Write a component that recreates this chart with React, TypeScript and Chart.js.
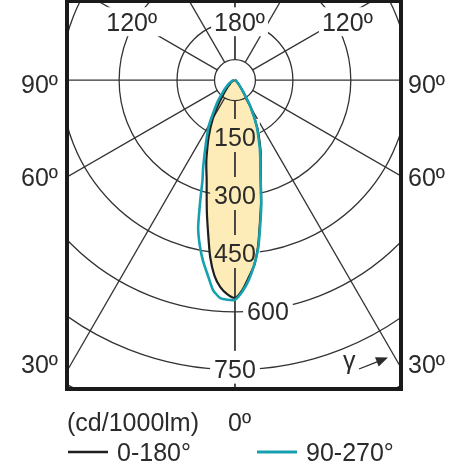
import React, { useEffect, useRef } from 'react';
import { Chart, registerables } from 'chart.js';

Chart.register(...registerables);

// ---------------- data ----------------
// gamma angles (deg, 0 = straight down) and intensities in cd/1000lm
const GAMMA = [0, 2, 4, 6, 8, 10, 12, 14, 16, 18, 20, 25, 30, 35, 40, 45, 50, 60, 70, 80, 90];
const C0 = [564, 544, 512, 481, 432, 373, 325, 277, 241, 215, 194, 137, 82, 36, 18, 10, 6, 3, 2, 1, 0];
const C180 = [564, 555, 538, 509, 462, 401, 350, 303, 266, 240, 216, 161, 114, 72, 45, 30, 20, 12, 5, 3, 1];
const C90 = [568, 548, 518, 480, 436, 378, 328, 276, 238, 212, 188, 134, 82, 38, 20, 11, 6, 3, 2, 1, 0];
const C270 = [569, 569, 565, 546, 509, 476, 438, 394, 327, 272, 241, 177, 134, 92, 66, 44, 32, 18, 10, 5, 2];

const SERIES = ['0-180°', '90-270°'];
const RING_VALUES = [150, 300, 450, 600, 750, 900];
const RING_LABELS = ['150', '300', '450', '600', '750'];
const INNER_RING = 53;
const RADIAL_ANGLES = [0, 30, 60, 90, 120, 150, 180];
const SIDE_ANGLES = [90, 60, 30];
const SIDE_LABELS = ['90º', '60º', '30º'];
const TOP_ANGLES = [-120, 180, 120];
const TOP_LABELS = ['120º', '180º', '120º'];
const TOP_LABEL_RADIUS = [300, 150, 300];
const BOTTOM_LABEL = '0º';
const UNIT = '(cd/1000lm)';
const GAMMA_SYMBOL = 'γ';

// ---------------- styles ----------------
const FONT = '"Liberation Sans", Arial, Helvetica, sans-serif';
const FS = 25;
const TEXT = '#2b2b2b';
const GRID = '#333333';
const BLACK = '#1e1e1e';
const CYAN = '#17a0b0';
const FILL = '#fdebb8';
const RING_LABEL_SHIFT = [0, 0, 0, 33, 0];
const SIDE_LABEL_DY = [4, 1, -4];

const rad = (d: number) => (d * Math.PI) / 180;

function halfPlane(vals: number[], side: number) {
  return GAMMA.map((g, i) => ({ x: side * vals[i] * Math.sin(rad(g)), y: -vals[i] * Math.cos(rad(g)) }));
}
function closedCurve(left: number[], right: number[]) {
  const l = halfPlane(left, -1).reverse();
  const r = halfPlane(right, 1).slice(1);
  return [...l, ...r];
}

function geom(chart: any) {
  const { x, y } = chart.scales;
  const cx = x.getPixelForValue(0);
  const cy = y.getPixelForValue(0);
  const k = (x.getPixelForValue(1000) - cx) / 1000;
  return { cx, cy, k };
}

function textBoxes(chart: any) {
  const ctx = chart.ctx;
  const { cx, cy, k } = geom(chart);
  ctx.font = `${FS}px ${FONT}`;
  const out: any[] = [];
  RING_LABELS.forEach((t, i) => {
    const w = ctx.measureText(t).width;
    const tcx = cx + RING_LABEL_SHIFT[i];
    const tcy = cy + RING_VALUES[i] * k - 1;
    out.push({ text: t, tx: tcx - w / 2, tcy, box: { x: tcx - w / 2 - 4, y: tcy - 18, w: w + 8, h: 33 } });
  });
  TOP_ANGLES.forEach((a, i) => {
    const R = TOP_LABEL_RADIUS[i] * k;
    const side = a < 0 ? -1 : a === 180 ? 0 : 1;
    const aa = rad(Math.abs(a));
    const px = cx + side * R * Math.sin(aa);
    const py = cy - R * Math.cos(rad(180) - aa);
    const t = TOP_LABELS[i];
    const dw = ctx.measureText(t.replace('º', '')).width;
    const w = ctx.measureText(t).width;
    const left = px + side * 7.5 - dw / 2;
    out.push({ text: t, tx: left, tcy: py, box: { x: left - 3, y: py - 15, w: w + 6, h: 29 } });
  });
  return out;
}

const polarPlugin = {
  id: 'polarGrid',
  beforeDatasetsDraw(chart: any) {
    const ctx = chart.ctx;
    const a = chart.chartArea;
    const { cx, cy, k } = geom(chart);
    // yellow fill inside the 0-180 curve
    ctx.save();
    ctx.beginPath();
    ctx.rect(a.left, a.top, a.right - a.left, a.bottom - a.top);
    ctx.clip();
    const meta = chart.getDatasetMeta(1);
    const line: any = meta.dataset;
    ctx.beginPath();
    if (line && typeof line.path === 'function') {
      if (typeof line.updateControlPoints === 'function') line.updateControlPoints(a, 'x');
      line.path(ctx);
    } else {
      meta.data.forEach((p: any, i: number) => (i ? ctx.lineTo(p.x, p.y) : ctx.moveTo(p.x, p.y)));
    }
    ctx.closePath();
    ctx.fillStyle = FILL;
    ctx.fill();
    ctx.restore();

    // polar grid with gaps behind labels
    const boxes = textBoxes(chart);
    ctx.save();
    ctx.beginPath();
    ctx.rect(a.left, a.top, a.right - a.left, a.bottom - a.top);
    boxes.forEach((b) => ctx.rect(b.box.x, b.box.y, b.box.w, b.box.h));
    ctx.clip('evenodd');
    ctx.strokeStyle = GRID;
    ctx.lineWidth = 1.3;
    [...RING_VALUES, INNER_RING].forEach((v) => {
      ctx.beginPath();
      ctx.arc(cx, cy, v * k, 0, Math.PI * 2);
      ctx.stroke();
    });
    RADIAL_ANGLES.forEach((g) => {
      [-1, 1].forEach((s) => {
        const dx = s * Math.sin(rad(g));
        const dy = Math.cos(rad(g));
        ctx.beginPath();
        ctx.moveTo(cx + dx * INNER_RING * k, cy + dy * INNER_RING * k);
        ctx.lineTo(cx + dx * 3000 * k, cy + dy * 3000 * k);
        ctx.stroke();
      });
    });
    ctx.restore();
  },
  afterDatasetsDraw(chart: any) {
    const ctx = chart.ctx;
    const a = chart.chartArea;
    const { cx, cy } = geom(chart);
    ctx.save();
    ctx.font = `${FS}px ${FONT}`;
    ctx.fillStyle = TEXT;
    ctx.textBaseline = 'alphabetic';
    ctx.textAlign = 'left';
    const base = 0.36 * FS;
    textBoxes(chart).forEach((b) => ctx.fillText(b.text, b.tx, b.tcy + base));

    // frame
    ctx.strokeStyle = '#1a1a1a';
    ctx.lineWidth = 4;
    ctx.strokeRect(a.left, a.top, a.right - a.left, a.bottom - a.top);

    // side angle labels
    SIDE_ANGLES.forEach((g, i) => {
      const dx = a.right - cx;
      const yy = g === 90 ? cy + SIDE_LABEL_DY[i] : cy + dx / Math.tan(rad(g)) + SIDE_LABEL_DY[i];
      ctx.textAlign = 'right';
      ctx.fillText(SIDE_LABELS[i], a.left - 9, yy + base);
      ctx.textAlign = 'left';
      ctx.fillText(SIDE_LABELS[i], a.right + 7, yy + base);
    });

    // gamma arrow
    ctx.textAlign = 'left';
    ctx.font = `25px ${FONT}`;
    ctx.fillText(GAMMA_SYMBOL, a.right - 58, a.bottom - 20);
    const x0 = a.right - 42, y0 = a.bottom - 20, x1 = a.right - 13, y1 = a.bottom - 31.5;
    const ang = Math.atan2(y1 - y0, x1 - x0);
    ctx.strokeStyle = TEXT;
    ctx.lineWidth = 1.3;
    ctx.beginPath();
    ctx.moveTo(x0, y0);
    ctx.lineTo(x1 - 9 * Math.cos(ang), y1 - 9 * Math.sin(ang));
    ctx.stroke();
    ctx.beginPath();
    ctx.moveTo(x1, y1);
    ctx.lineTo(x1 - 12 * Math.cos(ang) + 5 * Math.sin(ang), y1 - 12 * Math.sin(ang) - 5 * Math.cos(ang));
    ctx.lineTo(x1 - 12 * Math.cos(ang) - 5 * Math.sin(ang), y1 - 12 * Math.sin(ang) + 5 * Math.cos(ang));
    ctx.closePath();
    ctx.fill();

    // bottom texts
    ctx.font = `${FS}px ${FONT}`;
    const by = a.bottom + 33;
    ctx.fillText(UNIT, a.left, by + base);
    const zw = ctx.measureText('0').width;
    ctx.fillText(BOTTOM_LABEL, cx - zw / 2, by + base);

    // legend
    const ly = a.bottom + 63;
    const items = [
      { x: a.left + 1, color: BLACK, w: 2.5, text: SERIES[0] },
      { x: a.left + 190, color: CYAN, w: 3, text: SERIES[1] },
    ];
    items.forEach((it) => {
      ctx.strokeStyle = it.color;
      ctx.lineWidth = it.w;
      ctx.beginPath();
      ctx.moveTo(it.x, ly);
      ctx.lineTo(it.x + 40, ly);
      ctx.stroke();
      ctx.fillText(it.text, it.x + 49, ly + base);
    });
    ctx.restore();
  },
};

export default function App() {
  const ref = useRef<HTMLCanvasElement | null>(null);
  useEffect(() => {
    if (!ref.current) return;
    const chart = new Chart(ref.current, {
      type: 'scatter',
      data: {
        datasets: [
          {
            label: SERIES[1],
            data: closedCurve(C270, C90),
            showLine: true,
            borderColor: CYAN,
            borderWidth: 2.6,
            pointRadius: 0,
            tension: 0.2,
            fill: false,
          },
          {
            label: SERIES[0],
            data: closedCurve(C180, C0),
            showLine: true,
            borderColor: BLACK,
            borderWidth: 2.2,
            pointRadius: 0,
            tension: 0.2,
            fill: false,
          },
        ],
      },
      options: {
        responsive: false,
        animation: false,
        layout: { padding: { left: 67, right: 66, top: 1, bottom: 81 } },
        scales: {
          x: { type: 'linear', min: -435, max: 430, display: false },
          y: { type: 'linear', min: -800, max: 205, display: false },
        },
        plugins: { legend: { display: false }, tooltip: { enabled: false } },
      },
      plugins: [polarPlugin],
    } as any);
    return () => chart.destroy();
  }, []);
  return (
    <div style={{ position: 'absolute', left: 0, top: 0, width: 467, height: 470, background: '#fff' }}>
      <canvas ref={ref} width={467} height={470} style={{ display: 'block' }} />
    </div>
  );
}
